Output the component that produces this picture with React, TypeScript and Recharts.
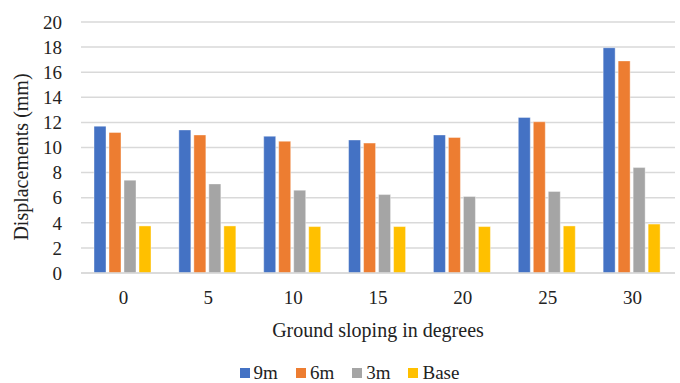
import { BarChart, Bar, XAxis, YAxis, CartesianGrid, Legend, Label } from "recharts";

// ground slope in degrees
const slopes = ["0", "5", "10", "15", "20", "25", "30"];

// lateral displacement (mm) at each storey level
const disp9m = [11.7, 11.4, 10.9, 10.6, 11.0, 12.4, 17.95];
const disp6m = [11.2, 11.0, 10.5, 10.35, 10.8, 12.05, 16.9];
const disp3m = [7.4, 7.1, 6.6, 6.25, 6.1, 6.5, 8.4];
const dispBase = [3.75, 3.75, 3.7, 3.7, 3.7, 3.75, 3.9];

const yTicks = [0, 2, 4, 6, 8, 10, 12, 14, 16, 18, 20];

const SERIES = [
  { key: "9m", color: "#4472C4" },
  { key: "6m", color: "#ED7D31" },
  { key: "3m", color: "#A5A5A5" },
  { key: "Base", color: "#FFC000" },
];

const FONT = "Liberation Serif, DejaVu Serif, serif";
const TEXT = "#222";
const GRID = "#d9d9d9";

const data = slopes.map((s, i) => ({
  slope: s,
  "9m": disp9m[i],
  "6m": disp6m[i],
  "3m": disp3m[i],
  Base: dispBase[i],
}));

function LegendRow() {
  return (
    <div
      style={{
        display: "flex",
        justifyContent: "center",
        gap: "18px",
        height: 20,
        lineHeight: "20px",
        paddingLeft: 24,
        fontFamily: FONT,
        fontSize: 19,
        color: TEXT,
      }}
    >
      {SERIES.map((s) => (
        <span key={s.key} style={{ display: "flex", alignItems: "center" }}>
          <span
            style={{
              width: 10,
              height: 10,
              background: s.color,
              marginRight: 4,
              display: "inline-block",
            }}
          />
          {s.key}
        </span>
      ))}
    </div>
  );
}

export default function App() {
  return (
    <div style={{ position: "absolute", left: 0, top: 0, width: 680, height: 383, fontFamily: FONT }}>
      <BarChart
        width={680}
        height={383}
        data={data}
        margin={{ top: 22, right: 5, left: 0, bottom: 0 }}
        barCategoryGap={13}
        barGap={3}
        style={{ fontFamily: FONT }}
      >
        <CartesianGrid vertical={false} stroke={GRID} strokeWidth={1.5} />
        <XAxis
          dataKey="slope"
          height={90}
          tickLine={false}
          axisLine={{ stroke: GRID, strokeWidth: 1.5 }}
          tickMargin={12}
          interval={0}
          tick={{ fill: TEXT, fontSize: 19, fontFamily: FONT }}
        >
          <Label
            content={({ viewBox }: any) => (
              <text
                x={viewBox.x + viewBox.width / 2}
                y={337}
                textAnchor="middle"
                fill={TEXT}
                fontSize={20}
                fontFamily={FONT}
              >
                Ground sloping in degrees
              </text>
            )}
          />
        </XAxis>
        <YAxis
          width={81}
          domain={[0, 20]}
          ticks={yTicks}
          interval={0}
          tickLine={false}
          axisLine={false}
          tickMargin={13}
          tick={{ fill: TEXT, fontSize: 19, fontFamily: FONT }}
        >
          <Label
            content={() => (
              <text
                transform="translate(28, 157) rotate(-90)"
                textAnchor="middle"
                fill={TEXT}
                fontSize={20}
                fontFamily={FONT}
              >
                Displacements (mm)
              </text>
            )}
          />
        </YAxis>
        <Legend verticalAlign="bottom" content={() => <LegendRow />} />
        {SERIES.map((s) => (
          <Bar
            key={s.key}
            dataKey={s.key}
            fill={s.color}
            stroke="#ffffff"
            strokeOpacity={0.5}
            strokeWidth={0.8}
            isAnimationActive={false}
          />
        ))}
      </BarChart>
    </div>
  );
}
